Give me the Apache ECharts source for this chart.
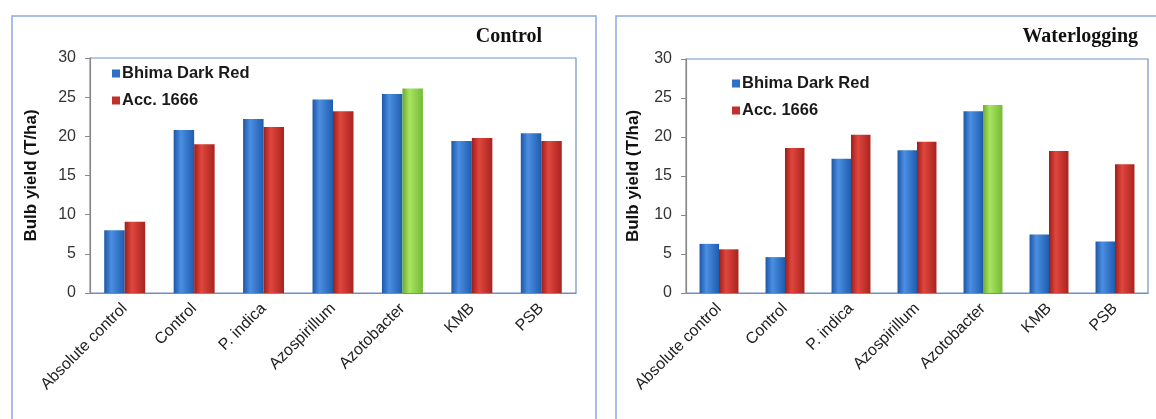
<!DOCTYPE html>
<html><head><meta charset="utf-8">
<script src="https://cdn.jsdelivr.net/npm/echarts@6/dist/echarts.min.js"></script>
<style>html,body{margin:0;padding:0;background:#fff}#c{width:1156px;height:419px}</style>
</head><body><div id="c"></div>
<script>
const categories = ['Absolute control','Control','P. indica','Azospirillum','Azotobacter','KMB','PSB'];
const seriesNames = ['Bhima Dark Red','Acc. 1666'];
const panelTitles = ['Control','Waterlogging'];
const yTicks = [0,5,10,15,20,25,30];
const controlBhima = [8.0, 20.8, 22.2, 24.7, 25.4, 19.4, 20.4];
const controlAcc = [9.1, 19.0, 21.2, 23.2, 26.1, 19.8, 19.4];
const waterBhima = [6.3, 4.6, 17.2, 18.3, 23.3, 7.5, 6.6];
const waterAcc = [5.6, 18.6, 20.3, 19.4, 24.1, 18.2, 16.5];
const highlightIndex = 4; // Azotobacter, Acc. 1666 bar drawn green

function grad(c1, c2, c3) {
  return new echarts.graphic.LinearGradient(0, 0, 1, 0, [
    {offset: 0, color: c1}, {offset: 0.35, color: c2}, {offset: 1, color: c3}]);
}
const blue = grad('#1d56a6', '#4b8fe2', '#1f5cae');
const red = grad('#9e1d1a', '#e0473e', '#a9231f');
const green = grad('#6aae2c', '#a8e462', '#74ba35');

const grids = [
  {left: 90, top: 58, width: 486, height: 235},
  {left: 686, top: 59, width: 462, height: 234}
];
const nameGaps = [50, 44];
const axisFont = 'Liberation Sans, Arial, sans-serif';

const xAxes = grids.map((g, i) => ({
  type: 'category', gridIndex: i, data: categories,
  axisLine: {lineStyle: {color: '#8a8a8a', width: 1.2}},
  axisTick: {lineStyle: {color: '#8a8a8a'}, length: 5},
  axisLabel: {rotate: 45, interval: 0, margin: 13, fontSize: 16, color: '#222', fontFamily: axisFont}
}));
const yAxes = grids.map((g, i) => ({
  type: 'value', gridIndex: i, min: 0, max: 30, interval: 5,
  name: 'Bulb yield (T/ha)', nameLocation: 'middle', nameGap: nameGaps[i],
  nameTextStyle: {fontSize: 17, fontWeight: 'bold', color: '#111', fontFamily: axisFont},
  axisLine: {show: true, lineStyle: {color: '#8a8a8a', width: 1.2}},
  axisTick: {show: true, length: 5, lineStyle: {color: '#8a8a8a'}},
  splitLine: {show: false},
  axisLabel: {fontSize: 16, color: '#333', margin: 14, fontFamily: axisFont,
    formatter: v => yTicks.includes(v) ? String(v) : ''}
}));

function makeData(vals, hi) {
  return vals.map((v, k) => k === hi ? {value: v, itemStyle: {color: green}} : v);
}
const panels = [[controlBhima, controlAcc], [waterBhima, waterAcc]];
const series = [];
panels.forEach((p, i) => {
  series.push({type: 'bar', name: seriesNames[0], xAxisIndex: i, yAxisIndex: i,
    data: p[0], barGap: '0%', barCategoryGap: '41%',
    itemStyle: {color: blue}});
  series.push({type: 'bar', name: seriesNames[1], xAxisIndex: i, yAxisIndex: i,
    data: makeData(p[1], highlightIndex), barGap: '0%', barCategoryGap: '41%',
    itemStyle: {color: red}});
});

const legendBase = {
  orient: 'vertical', icon: 'rect', itemWidth: 8, itemHeight: 8, itemGap: 10,
  selectedMode: false, padding: 0,
  textStyle: {fontSize: 16.5, fontWeight: 'bold', color: '#1a1a1a', fontFamily: axisFont, lineHeight: 17, padding: [0,0,0,-3]},
  data: [{name: seriesNames[0], itemStyle: {color: '#2f6fc6'}}, {name: seriesNames[1], itemStyle: {color: '#c2302a'}}]
};

const chart = echarts.init(document.getElementById('c'));
chart.setOption({
  animation: false,
  backgroundColor: '#fff',
  title: [
    {text: panelTitles[0], right: 614, top: 27, padding: 0,
      textStyle: {fontFamily: 'Liberation Serif, Times New Roman, serif', fontWeight: 'bold', fontSize: 20, color: '#111'}},
    {text: panelTitles[1], right: 18, top: 27, padding: 0,
      textStyle: {fontFamily: 'Liberation Serif, Times New Roman, serif', fontWeight: 'bold', fontSize: 20, color: '#111'}}
  ],
  legend: [
    Object.assign({}, legendBase, {left: 112, top: 65}),
    Object.assign({}, legendBase, {left: 732, top: 75})
  ],
  graphic: [
    {type: 'rect', shape: {x: 12, y: 16, width: 584, height: 420}, style: {fill: 'none', stroke: '#8eaad8', lineWidth: 1.5}, z: -10},
    {type: 'rect', shape: {x: 616, y: 16, width: 560, height: 420}, style: {fill: 'none', stroke: '#8eaad8', lineWidth: 1.5}, z: -10}
  ],
  grid: grids.map(g => Object.assign({show: true, borderColor: '#7391c2', borderWidth: 1.2, backgroundColor: '#fff'}, g)),
  xAxis: xAxes,
  yAxis: yAxes,
  series: series
});
</script></body></html>
